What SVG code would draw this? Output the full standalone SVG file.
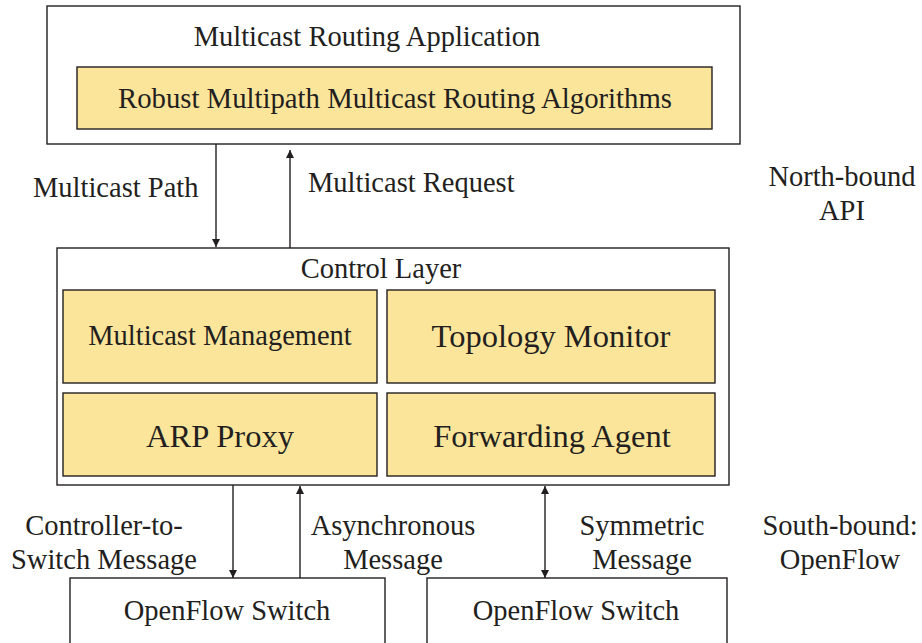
<svg xmlns="http://www.w3.org/2000/svg" width="922" height="643" viewBox="0 0 922 643">
  <style>
    text { font-family: "Liberation Serif", "Times New Roman", serif; fill: #231f20; }
    .t28 { font-size: 28.5px; }
    .t32 { font-size: 32.5px; }
    .mid { text-anchor: middle; }
    .box { fill: #ffffff; stroke: #231f20; stroke-width: 1.4; }
    .mod { fill: #fbe59a; stroke: #231f20; stroke-width: 1.4; }
    .conn { stroke: #231f20; stroke-width: 1.4; fill: none; }
  </style>
  <defs>
    <marker id="arrow" viewBox="0 0 10 10" refX="10" refY="5" markerWidth="8" markerHeight="12" markerUnits="userSpaceOnUse" orient="auto-start-reverse">
      <path d="M0,0 L10,5 L0,10 z" fill="#231f20"/>
    </marker>
  </defs>
  <rect width="922" height="643" fill="#ffffff"/>

  <!-- application layer -->
  <g id="app">
    <rect class="box" x="47" y="6" width="693" height="138"/>
    <text class="t28 mid" x="367" y="46">Multicast Routing Application</text>
  </g>
  <g id="algorithms">
    <rect class="mod" x="77" y="67" width="635" height="62"/>
    <text class="t28 mid" x="395" y="108" textLength="554" lengthAdjust="spacingAndGlyphs">Robust Multipath Multicast Routing Algorithms</text>
  </g>

  <!-- control layer -->
  <g id="control">
    <rect class="box" x="57" y="248" width="672" height="237"/>
    <text class="t28 mid" x="381" y="278">Control Layer</text>
  </g>
  <g id="multicast-management">
    <rect class="mod" x="63" y="290" width="314" height="93"/>
    <text class="t28 mid" x="220" y="345">Multicast Management</text>
  </g>
  <g id="topology-monitor">
    <rect class="mod" x="387" y="290" width="328" height="93"/>
    <text class="t32 mid" x="551" y="347">Topology Monitor</text>
  </g>
  <g id="arp-proxy">
    <rect class="mod" x="63" y="393" width="314" height="83"/>
    <text class="t32 mid" x="220" y="447">ARP Proxy</text>
  </g>
  <g id="forwarding-agent">
    <rect class="mod" x="387" y="393" width="328" height="83"/>
    <text class="t32 mid" x="552" y="447">Forwarding Agent</text>
  </g>

  <!-- switches -->
  <g id="switch-1">
    <rect class="box" x="70" y="578" width="315" height="80"/>
    <text class="t28 mid" x="227" y="620">OpenFlow Switch</text>
  </g>
  <g id="switch-2">
    <rect class="box" x="427" y="578" width="300" height="80"/>
    <text class="t28 mid" x="576" y="620">OpenFlow Switch</text>
  </g>

  <!-- connectors -->
  <g id="connectors">
    <line class="conn" x1="216" y1="144" x2="216" y2="247" marker-end="url(#arrow)"/>
    <line class="conn" x1="290" y1="248" x2="290" y2="150" marker-end="url(#arrow)"/>
    <line class="conn" x1="233" y1="485" x2="233" y2="578" marker-end="url(#arrow)"/>
    <line class="conn" x1="300" y1="578" x2="300" y2="486" marker-end="url(#arrow)"/>
    <line class="conn" x1="545" y1="486" x2="545" y2="578" marker-start="url(#arrow)" marker-end="url(#arrow)"/>
  </g>

  <!-- connector labels -->
  <g id="labels">
    <text class="t28" x="33" y="197">Multicast Path</text>
    <text class="t28" x="308" y="192">Multicast Request</text>
    <text class="t28 mid" x="842" y="186">North-bound</text>
    <text class="t28 mid" x="842" y="220">API</text>
    <text class="t28 mid" x="104" y="535">Controller-to-</text>
    <text class="t28 mid" x="104" y="569">Switch Message</text>
    <text class="t28 mid" x="393" y="535">Asynchronous</text>
    <text class="t28 mid" x="393" y="569">Message</text>
    <text class="t28 mid" x="642" y="535">Symmetric</text>
    <text class="t28 mid" x="642" y="569">Message</text>
    <text class="t28 mid" x="840" y="535">South-bound:</text>
    <text class="t28 mid" x="840" y="569">OpenFlow</text>
  </g>
</svg>
